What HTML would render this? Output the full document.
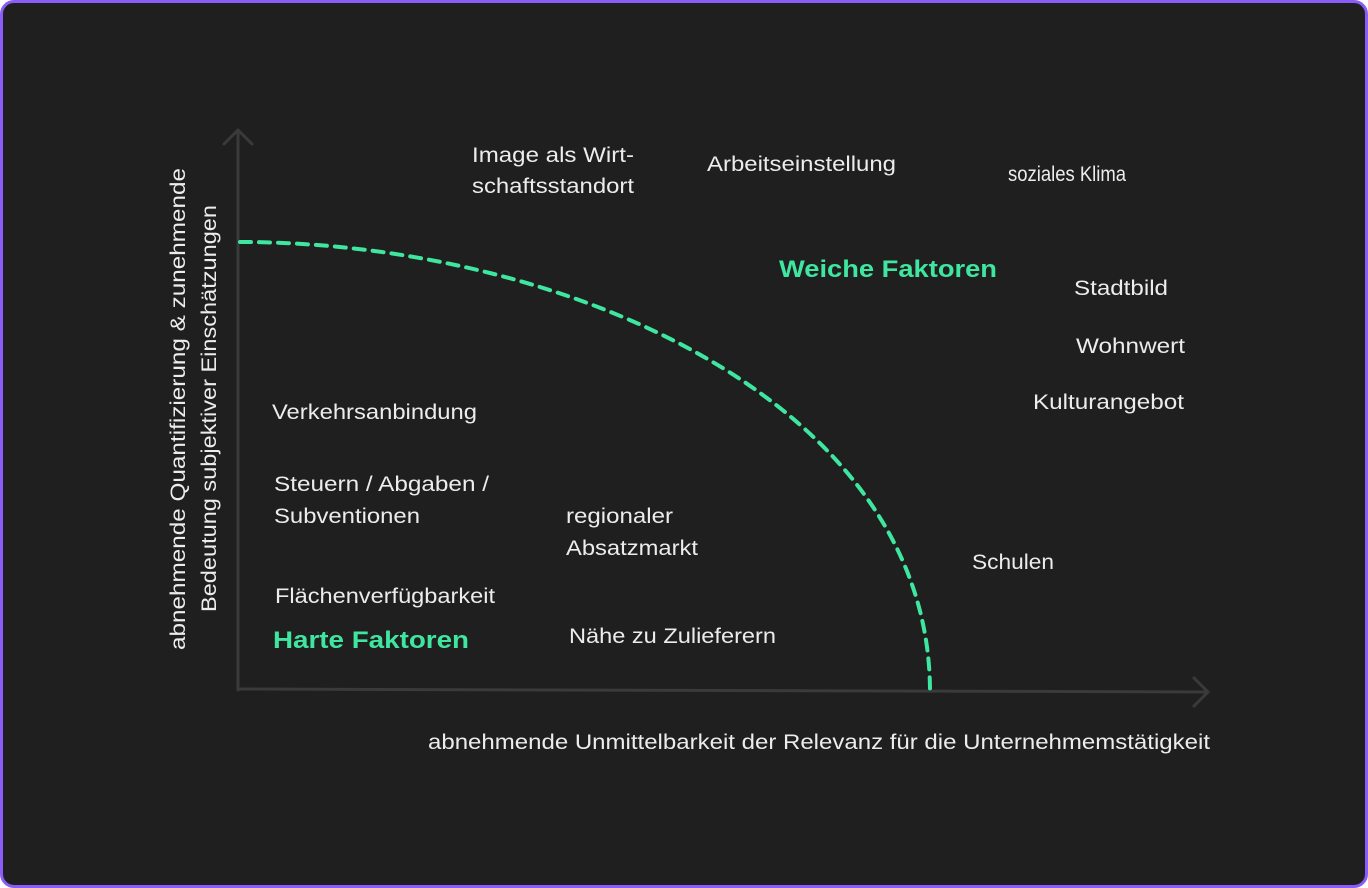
<!DOCTYPE html>
<html><head><meta charset="utf-8"><style>
html,body{margin:0;padding:0;background:#fff}
.f{position:absolute;left:0;top:0;width:1362px;height:882px;border:3px solid #8b5cf6;border-radius:14px;background:#1f1f1f;overflow:hidden}
svg{position:absolute;left:-3px;top:-3px}
text{font-family:"Liberation Sans",sans-serif;font-size:21px;fill:#ececec}
.g{fill:#3ee6a0;font-weight:bold;font-size:24px}
</style></head><body>
<div class="f">
<svg width="1368" height="888" viewBox="0 0 1368 888">
<g stroke="#3a3a3a" stroke-width="3" fill="none" stroke-linecap="round" stroke-linejoin="round">
<line x1="238" y1="690" x2="238" y2="130"/>
<polyline points="224,144 238,130 252,144"/>
<line x1="238" y1="689" x2="1208" y2="692"/>
<polyline points="1194,678 1208,692 1194,706"/>
</g>
<path d="M240,242 C560,242 930,400 930,692" stroke="#3ee6a0" stroke-width="4" fill="none" stroke-dasharray="11,8" stroke-linecap="round"/>
<g lengthAdjust="spacingAndGlyphs">
<text lengthAdjust="spacingAndGlyphs" x="472" y="162" textLength="162">Image als Wirt-</text>
<text lengthAdjust="spacingAndGlyphs" x="472" y="193" textLength="162">schaftsstandort</text>
<text lengthAdjust="spacingAndGlyphs" x="707" y="171" textLength="189">Arbeitseinstellung</text>
<text lengthAdjust="spacingAndGlyphs" x="1008" y="181" textLength="118">soziales Klima</text>
<text lengthAdjust="spacingAndGlyphs" class="g" x="779" y="277" textLength="218">Weiche Faktoren</text>
<text lengthAdjust="spacingAndGlyphs" x="1074" y="295" textLength="94">Stadtbild</text>
<text lengthAdjust="spacingAndGlyphs" x="1076" y="353" textLength="109">Wohnwert</text>
<text lengthAdjust="spacingAndGlyphs" x="1033" y="409" textLength="151">Kulturangebot</text>
<text lengthAdjust="spacingAndGlyphs" x="272" y="419" textLength="205">Verkehrsanbindung</text>
<text lengthAdjust="spacingAndGlyphs" x="274" y="491" textLength="215">Steuern / Abgaben /</text>
<text lengthAdjust="spacingAndGlyphs" x="274" y="523" textLength="146">Subventionen</text>
<text lengthAdjust="spacingAndGlyphs" x="566" y="523" textLength="107">regionaler</text>
<text lengthAdjust="spacingAndGlyphs" x="566" y="555" textLength="132">Absatzmarkt</text>
<text lengthAdjust="spacingAndGlyphs" x="972" y="569" textLength="82">Schulen</text>
<text lengthAdjust="spacingAndGlyphs" x="275" y="603" textLength="220">Flächenverfügbarkeit</text>
<text lengthAdjust="spacingAndGlyphs" class="g" x="273" y="648" textLength="196">Harte Faktoren</text>
<text lengthAdjust="spacingAndGlyphs" x="569" y="643" textLength="207">Nähe zu Zulieferern</text>
<text lengthAdjust="spacingAndGlyphs" x="428" y="749" textLength="782">abnehmende Unmittelbarkeit der Relevanz für die Unternehmemstätigkeit</text>
<text lengthAdjust="spacingAndGlyphs" transform="translate(185,650) rotate(-90)" textLength="482">abnehmende Quantifizierung &amp; zunehmende</text>
<text lengthAdjust="spacingAndGlyphs" transform="translate(216,612) rotate(-90)" textLength="407">Bedeutung subjektiver Einschätzungen</text>
</g>
</svg>
</div>
</body></html>
